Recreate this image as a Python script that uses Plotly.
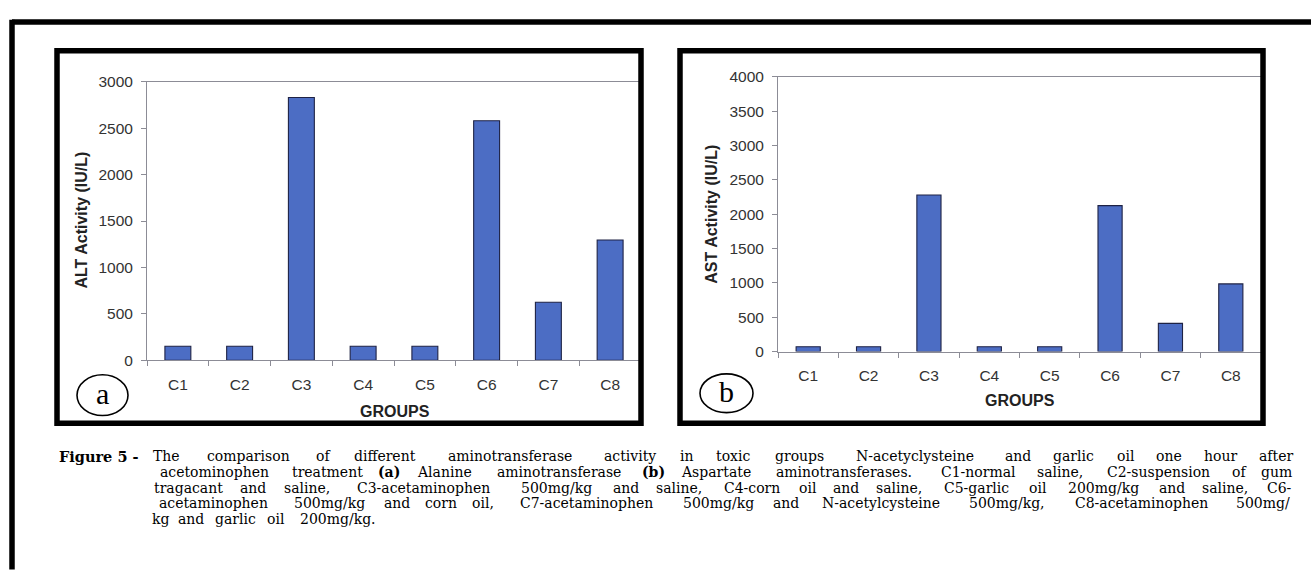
import plotly.graph_objects as go

# ---------------- data ----------------
groups = ["C1", "C2", "C3", "C4", "C5", "C6", "C7", "C8"]
alt_values = [150, 150, 2830, 150, 150, 2580, 625, 1295]
ast_values = [70, 70, 2280, 70, 70, 2125, 410, 985]
alt_ticks = [0, 500, 1000, 1500, 2000, 2500, 3000]
ast_ticks = [0, 500, 1000, 1500, 2000, 2500, 3000, 3500, 4000]
alt_title = "ALT Activity (IU/L)"
ast_title = "AST Activity (IU/L)"
x_title = "GROUPS"
caption_label = "Figure 5 -"
caption_lines = [
    "The comparison of different aminotransferase activity in toxic groups N-acetyclysteine and garlic oil one hour after",
    "acetominophen treatment <b>(a)</b> Alanine aminotransferase <b>(b)</b> Aspartate aminotransferases. C1-normal saline, C2-suspension of gum",
    "tragacant and saline, C3-acetaminophen 500mg/kg and saline, C4-corn oil and saline, C5-garlic oil 200mg/kg and saline, C6-",
    "acetaminophen 500mg/kg and corn oil, C7-acetaminophen 500mg/kg and N-acetylcysteine 500mg/kg, C8-acetaminophen 500mg/",
    "kg and garlic oil 200mg/kg.",
]

# ---------------- helpers ----------------
W, H = 1311, 572


def px(x):
    return x / W


def py(y):
    return 1 - y / H


REG = {' ': 250, 'a': 444, 'b': 500, 'c': 444, 'd': 500, 'e': 444, 'f': 333, 'g': 500,
       'h': 500, 'i': 278, 'j': 278, 'k': 500, 'l': 278, 'm': 778, 'n': 500, 'o': 500,
       'p': 500, 'q': 500, 'r': 333, 's': 389, 't': 278, 'u': 500, 'v': 500, 'w': 722,
       'x': 500, 'y': 500, 'z': 444, 'A': 722, 'C': 667, 'N': 722, 'T': 611,
       '-': 333, '/': 278, ',': 250, '.': 250, '(': 333, ')': 333}
for d in "0123456789":
    REG[d] = 500
BOLD = {'(': 333, ')': 333, 'a': 500, 'b': 556}


def word_width(w, scale):
    if w.startswith("<b>"):
        t = w[3:-4]
        return sum(BOLD.get(c, 500) for c in t) / 1000 * scale
    return sum(REG.get(c, 500) for c in w) / 1000 * scale


CAP_SCALE = 21.0
CAP_X0, CAP_X1 = 150, 1295
CAP_Y = [461, 477.2, 493.4, 509.6, 525.8]
CAP_FONT = dict(family="DejaVu Serif", size=14, color="black")

fig = go.Figure()

bar_style = dict(marker=dict(color="#4c6dc4", line=dict(color="#1e2244", width=1.1)),
                 showlegend=False, hoverinfo="x+y")
fig.add_trace(go.Bar(x=groups, y=alt_values, xaxis="x", yaxis="y", width=0.42, **bar_style))
fig.add_trace(go.Bar(x=groups, y=ast_values, xaxis="x2", yaxis="y2", width=0.40, **bar_style))

tickfont = dict(family="Liberation Sans, Arial", size=15.5, color="#333333")
axis_gray = "#8c8c96"


def xaxis_cfg(domain, anchor):
    return dict(domain=domain, anchor=anchor, type="category", tickson="boundaries",
                ticks="outside", ticklen=5, tickcolor=axis_gray, showline=True,
                linecolor=axis_gray, linewidth=1, mirror=True, showgrid=False,
                tickfont=tickfont, ticklabelstandoff=10, fixedrange=True)


def yaxis_cfg(domain, anchor, rng, vals):
    return dict(domain=domain, anchor=anchor, range=rng, tickvals=vals,
                ticks="outside", ticklen=5, tickcolor=axis_gray, showline=True,
                linecolor=axis_gray, linewidth=1, showgrid=False, zeroline=False,
                tickfont=tickfont, ticklabelstandoff=5, fixedrange=True)


fig.update_layout(
    width=W, height=H, margin=dict(l=0, r=0, t=0, b=0),
    paper_bgcolor="white", plot_bgcolor="white",
    xaxis=xaxis_cfg([px(147), px(641)], "y"),
    yaxis=yaxis_cfg([py(362), py(75)], "x", [0, 3000], alt_ticks),
    xaxis2=xaxis_cfg([px(778), px(1261)], "y2"),
    yaxis2=yaxis_cfg([py(353), py(70)], "x2", [0, 4000], ast_ticks),
)

shapes = []
# outer frame (top & left)
shapes.append(dict(type="line", xref="paper", yref="paper", x0=px(12), x1=1.01,
                   y0=py(13.5), y1=py(13.5), line=dict(color="black", width=5.5)))
shapes.append(dict(type="line", xref="paper", yref="paper", x0=px(12), x1=px(12),
                   y0=py(11), y1=-0.01, line=dict(color="black", width=5.5)))
# panel boxes
for x0, x1 in [(57, 641), (680, 1263)]:
    shapes.append(dict(type="rect", xref="paper", yref="paper", x0=px(x0), x1=px(x1),
                       y0=py(427), y1=py(43), line=dict(color="black", width=5.5)))
# panel letter circles
for (x0, y0, x1, y1) in [(77, 377, 128, 419), (700, 376, 753, 416)]:
    shapes.append(dict(type="circle", xref="paper", yref="paper", x0=px(x0), x1=px(x1),
                       y0=py(y1), y1=py(y0), line=dict(color="black", width=1.6)))
fig.update_layout(shapes=shapes)

ann = []
title_font = dict(family="Liberation Sans, Arial", size=16, color="#222222")
ann.append(dict(text="<b>%s</b>" % alt_title, x=px(82), y=py(218), textangle=-90))
ann.append(dict(text="<b>%s</b>" % ast_title, x=px(712), y=py(212), textangle=-90))
ann.append(dict(text="<b>%s</b>" % x_title, x=px(395), y=py(415)))
ann.append(dict(text="<b>%s</b>" % x_title, x=px(1020), y=py(404)))
for a in ann:
    a.update(font=title_font)
letter_font = dict(family="Liberation Serif, Times New Roman", size=30, color="black")
ann.append(dict(text="a", x=px(102.5), y=py(396), font=letter_font))
ann.append(dict(text="b", x=px(726.5), y=py(394), font=letter_font))

# caption
ann.append(dict(text="<b>%s</b>" % caption_label, x=px(99), y=py(CAP_Y[0]),
                font=dict(family="DejaVu Serif", size=14.5, color="black")))
for li, line in enumerate(caption_lines):
    words = line.split(" ")
    widths = [word_width(w, CAP_SCALE) for w in words]
    if li < len(caption_lines) - 1:
        gap = (CAP_X1 - CAP_X0 - sum(widths)) / (len(words) - 1)
    else:
        gap = 0.25 * CAP_SCALE
    x = CAP_X0
    for w, wd in zip(words, widths):
        ann.append(dict(text=w, x=px(x + wd / 2), y=py(CAP_Y[li]), font=CAP_FONT))
        x += wd + gap

for a in ann:
    a.update(xref="paper", yref="paper", showarrow=False, xanchor="center", yanchor="middle")
fig.update_layout(annotations=ann)

fig.write_html("out.html")
